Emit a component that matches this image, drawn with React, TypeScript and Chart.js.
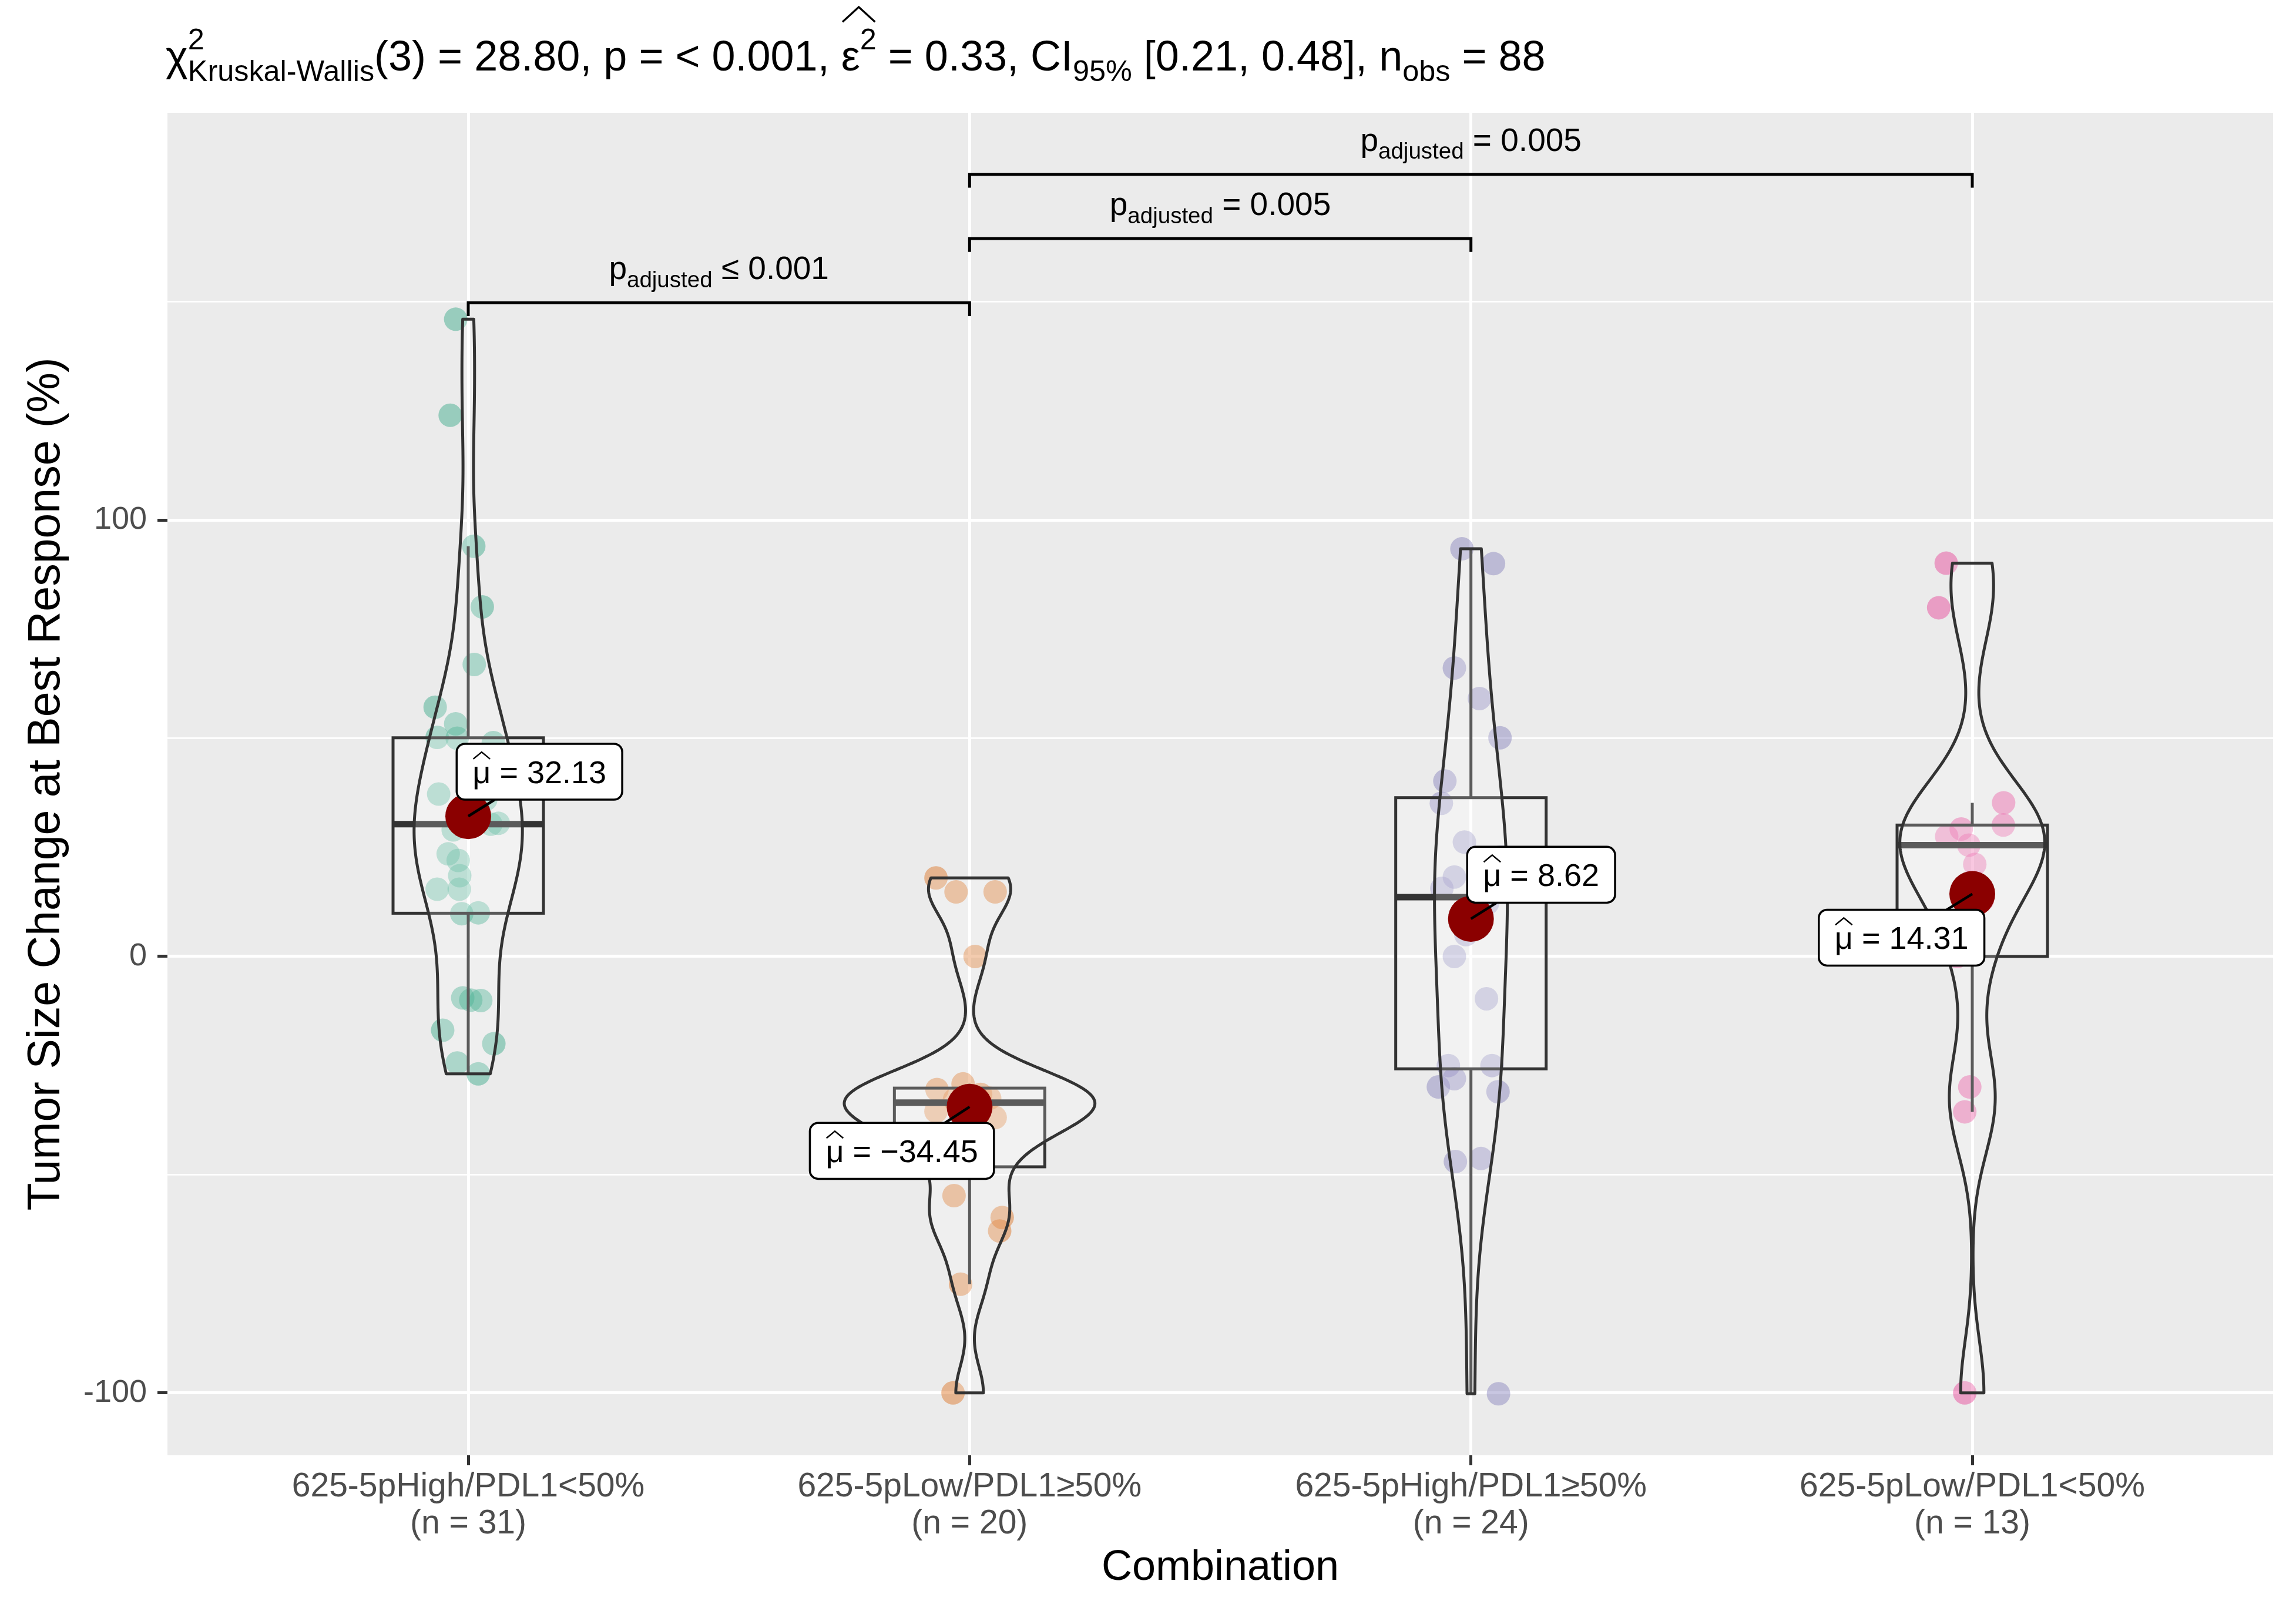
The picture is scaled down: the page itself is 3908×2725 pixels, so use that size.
import React, { useEffect, useRef } from "react";
import Chart from "chart.js/auto";

const FONT = "'Liberation Sans', Arial, Helvetica, sans-serif";
const font = (size: number) => `${size}px ${FONT}`;

// groups on the x axis
const categoryNames = [
  "625-5pHigh/PDL1<50%",
  "625-5pLow/PDL1≥50%",
  "625-5pHigh/PDL1≥50%",
  "625-5pLow/PDL1<50%",
];
const categoryCounts = [31, 20, 24, 13];
const groupColors = ["#1B9E77", "#D95F02", "#7570B3", "#E7298A"];

// tumour size change (%) per patient, with their jitter
const highLow50Values = [146, 124, 94, 80.1, 66.9, 57.1, 53.3, 50.2, 50, 49, 37.2, 36, 33, 32, 30.5, 30.3, 29, 23.5, 22, 18.5, 15.4, 15.4, 10, 9.8, -9.5, -10, -10.1, -16.9, -20, -24.4, -26.9];
const highLow50Jitter = [-0.025, -0.036, 0.011, 0.028, 0.012, -0.066, -0.025, -0.062, -0.022, 0.05, -0.059, 0.035, 0.02, 0, 0.06, 0.045, -0.03, -0.04, -0.02, -0.017, -0.062, -0.018, 0.02, -0.013, -0.011, 0.005, 0.025, -0.051, 0.051, -0.022, 0.02];

const lowHigh50Values = [18, 14.8, 14.8, 0, -29.2, -30.5, -31.6, -32.5, -32.8, -33, -34, -35.5, -36.9, -42, -46, -54.8, -59.8, -62.9, -75.1, -100];
const lowHigh50Jitter = [-0.067, -0.027, 0.051, 0.011, -0.013, -0.065, 0.022, 0.04, -0.03, 0, 0.01, -0.067, 0.051, -0.05, -0.08, -0.031, 0.065, 0.06, -0.018, -0.033];

const highHigh50Values = [93.4, 90, 66.1, 59.1, 50.1, 40.2, 35.1, 26.2, 22.8, 18.2, 15.6, 15, 12.2, 5, 0, -9.7, -25, -25, -28, -29.9, -31, -46.3, -47, -100.2];
const highHigh50Jitter = [-0.018, 0.045, -0.033, 0.017, 0.058, -0.052, -0.059, -0.013, 0.06, -0.033, -0.058, 0.05, 0.033, -0.01, -0.033, 0.031, -0.045, 0.042, -0.033, -0.065, 0.054, 0.02, -0.031, 0.055];

const lowLow50Values = [90.1, 79.9, 35.2, 30.1, 29.2, 27.5, 25.5, 21.1, 12.9, 0, -29.9, -35.6, -100];
const lowLow50Jitter = [-0.052, -0.067, 0.0625, 0.062, -0.022, -0.051, -0.007, 0.005, 0.02, -0.03, -0.005, -0.015, -0.015];

const groupValues = [highLow50Values, lowHigh50Values, highHigh50Values, lowLow50Values];
const groupJitter = [highLow50Jitter, lowHigh50Jitter, highHigh50Jitter, lowLow50Jitter];

// group means as printed in the labels
const groupMeans = [32.13, -34.45, 8.62, 14.31];

const yTicks = [-100, -50, 0, 50, 100, 150];
const yLabelled = [-100, 0, 100];

// pairwise comparisons (group a vs b)
const comparisons = [
  { a: 1, b: 2, y: 149.8, text: " ≤ 0.001" },
  { a: 2, b: 3, y: 164.5, text: " = 0.005" },
  { a: 2, b: 4, y: 179.2, text: " = 0.005" },
];

// where ggrepel put the mean labels, relative to the mean (x units, y units)
const labelNudge = [
  [0.142, 10.2],
  [-0.135, -10.1],
  [0.14, 10.1],
  [-0.141, -10],
];

const SCRIPT = 0.7;

type Run = { text: string; sub?: string; sup?: string; hat?: [number, number] };

function measureRuns(ctx: CanvasRenderingContext2D, runs: Run[], size: number) {
  return runs.map((r) => {
    ctx.font = font(size);
    const main = ctx.measureText(r.text).width;
    ctx.font = font(size * SCRIPT);
    const sub = r.sub ? ctx.measureText(r.sub).width : 0;
    const sup = r.sup ? ctx.measureText(r.sup).width : 0;
    return { main, script: Math.max(sub, sup) };
  });
}

function drawRuns(
  ctx: CanvasRenderingContext2D,
  runs: Run[],
  x: number,
  baseline: number,
  size: number,
  align: "left" | "center",
  subDrop = 0.25
) {
  const m = measureRuns(ctx, runs, size);
  const total = m.reduce((s, w) => s + w.main + w.script, 0);
  let cx = align === "center" ? x - total / 2 : x;
  ctx.textAlign = "left";
  ctx.textBaseline = "alphabetic";
  runs.forEach((r, i) => {
    ctx.font = font(size);
    ctx.fillText(r.text, cx, baseline);
    ctx.font = font(size * SCRIPT);
    if (r.sup) ctx.fillText(r.sup, cx + m[i].main, baseline - size * 0.5);
    if (r.sub) ctx.fillText(r.sub, cx + m[i].main, baseline + size * subDrop);
    if (r.hat) {
      const w = m[i].main + m[i].script;
      const top = baseline - size * r.hat[0];
      const bottom = baseline - size * r.hat[1];
      ctx.save();
      ctx.lineWidth = size * 0.045;
      ctx.strokeStyle = ctx.fillStyle as string;
      ctx.beginPath();
      ctx.moveTo(cx + w * 0.04, bottom);
      ctx.lineTo(cx + w / 2, top);
      ctx.lineTo(cx + w * 0.96, bottom);
      ctx.stroke();
      ctx.restore();
    }
    cx += m[i].main + m[i].script;
  });
  return total;
}

function quantile(sorted: number[], p: number) {
  const h = (sorted.length - 1) * p;
  const lo = Math.floor(h);
  const hi = Math.ceil(h);
  return sorted[lo] + (h - lo) * (sorted[hi] - sorted[lo]);
}

function boxStats(values: number[]) {
  const s = [...values].sort((a, b) => a - b);
  const q1 = quantile(s, 0.25);
  const med = quantile(s, 0.5);
  const q3 = quantile(s, 0.75);
  const iqr = q3 - q1;
  const lowW = Math.min(...s.filter((v) => v >= q1 - 1.5 * iqr));
  const highW = Math.max(...s.filter((v) => v <= q3 + 1.5 * iqr));
  return { q1, med, q3, lowW, highW, iqr, s };
}

// gaussian kde, bw.nrd0, trimmed to the data range (like geom_violin)
function density(values: number[]) {
  const n = values.length;
  const mean = values.reduce((a, b) => a + b, 0) / n;
  const sd = Math.sqrt(values.reduce((a, v) => a + (v - mean) ** 2, 0) / (n - 1));
  const { iqr, s } = boxStats(values);
  const lo = Math.min(sd, iqr / 1.34) || sd || 1;
  const bw = 0.9 * lo * Math.pow(n, -0.2);
  const out: [number, number][] = [];
  const N = 512;
  const min = s[0];
  const max = s[n - 1];
  for (let k = 0; k < N; k++) {
    const y = min + ((max - min) * k) / (N - 1);
    let d = 0;
    for (const v of values) {
      const z = (y - v) / bw;
      d += Math.exp(-0.5 * z * z);
    }
    out.push([y, d / (n * bw * Math.sqrt(2 * Math.PI))]);
  }
  return out;
}

const MEAN_INDEX = 4;

const overlayPlugin = {
  id: "statsOverlay",
  beforeDatasetDraw(chart: any, args: any) {
    if (args.index !== MEAN_INDEX) return;
    const { ctx, scales } = chart;
    const x = scales.x;
    const y = scales.y;

    // boxplots
    groupValues.forEach((vals, i) => {
      const b = boxStats(vals);
      const cx = i + 1;
      const left = x.getPixelForValue(cx - 0.15);
      const right = x.getPixelForValue(cx + 0.15);
      const mid = x.getPixelForValue(cx);
      ctx.save();
      ctx.strokeStyle = "#333333";
      ctx.lineWidth = 5;
      ctx.beginPath();
      ctx.moveTo(mid, y.getPixelForValue(b.q3));
      ctx.lineTo(mid, y.getPixelForValue(b.highW));
      ctx.moveTo(mid, y.getPixelForValue(b.q1));
      ctx.lineTo(mid, y.getPixelForValue(b.lowW));
      ctx.stroke();
      const top = y.getPixelForValue(b.q3);
      const bottom = y.getPixelForValue(b.q1);
      ctx.fillStyle = "rgba(255,255,255,0.2)";
      ctx.fillRect(left, top, right - left, bottom - top);
      ctx.strokeRect(left, top, right - left, bottom - top);
      ctx.lineWidth = 11;
      ctx.beginPath();
      ctx.moveTo(left, y.getPixelForValue(b.med));
      ctx.lineTo(right, y.getPixelForValue(b.med));
      ctx.stroke();
      ctx.restore();
    });

    // violins, scale = "area", width 0.5
    const dens = groupValues.map(density);
    const maxD = Math.max(...dens.map((d) => Math.max(...d.map((p) => p[1]))));
    dens.forEach((d, i) => {
      const cx = i + 1;
      ctx.save();
      ctx.beginPath();
      d.forEach(([v, dd], k) => {
        const px = x.getPixelForValue(cx + (0.25 * dd) / maxD);
        const py = y.getPixelForValue(v);
        if (k === 0) ctx.moveTo(px, py);
        else ctx.lineTo(px, py);
      });
      for (let k = d.length - 1; k >= 0; k--) {
        const [v, dd] = d[k];
        ctx.lineTo(x.getPixelForValue(cx - (0.25 * dd) / maxD), y.getPixelForValue(v));
      }
      ctx.closePath();
      ctx.fillStyle = "rgba(255,255,255,0.2)";
      ctx.fill();
      ctx.strokeStyle = "#333333";
      ctx.lineWidth = 5;
      ctx.lineJoin = "round";
      ctx.stroke();
      ctx.restore();
    });
  },
  afterDatasetsDraw(chart: any) {
    const { ctx, scales } = chart;
    const x = scales.x;
    const y = scales.y;

    // mean labels
    const size = 54;
    groupMeans.forEach((m, i) => {
      const px = x.getPixelForValue(i + 1);
      const py = y.getPixelForValue(m);
      const lx = x.getPixelForValue(i + 1 + labelNudge[i][0]);
      const ly = y.getPixelForValue(m + labelNudge[i][1]);
      const valueText = m < 0 ? ` = \u2212${Math.abs(m).toFixed(2)}` : ` = ${m.toFixed(2)}`;
      const runs: Run[] = [{ text: "μ", hat: [0.98, 0.76] }, { text: valueText }];
      const w = measureRuns(ctx, runs, size).reduce((s, r) => s + r.main + r.script, 0);
      const bw = w + size * 1.0;
      const bh = size * 1.76;
      const bx = lx - bw / 2;
      const by = ly - bh / 2;
      // segment from the point to the edge of the label box
      const dx = lx - px;
      const dy = ly - py;
      const t = Math.max(
        Math.abs(dx) > 0 ? (Math.abs(dx) - bw / 2) / Math.abs(dx) : 0,
        Math.abs(dy) > 0 ? (Math.abs(dy) - bh / 2) / Math.abs(dy) : 0
      );
      ctx.save();
      ctx.strokeStyle = "#000";
      ctx.lineWidth = 4.5;
      ctx.beginPath();
      ctx.moveTo(px, py);
      ctx.lineTo(px + dx * t, py + dy * t);
      ctx.stroke();
      ctx.beginPath();
      ctx.roundRect(bx, by, bw, bh, 14);
      ctx.fillStyle = "#fff";
      ctx.fill();
      ctx.lineWidth = 3.5;
      ctx.stroke();
      ctx.fillStyle = "#000";
      drawRuns(ctx, runs, lx, ly + size * 0.36, size, "center");
      ctx.restore();
    });

    // significance brackets
    comparisons.forEach((c) => {
      const x1 = x.getPixelForValue(c.a);
      const x2 = x.getPixelForValue(c.b);
      const yy = y.getPixelForValue(c.y);
      const yt = y.getPixelForValue(c.y - 3.07);
      ctx.save();
      ctx.strokeStyle = "#000";
      ctx.lineWidth = 5;
      ctx.beginPath();
      ctx.moveTo(x1, yt);
      ctx.lineTo(x1, yy);
      ctx.lineTo(x2, yy);
      ctx.lineTo(x2, yt);
      ctx.stroke();
      ctx.fillStyle = "#000";
      drawRuns(ctx, [{ text: "p", sub: "adjusted" }, { text: c.text }], (x1 + x2) / 2, yy - 40, 55, "center");
      ctx.restore();
    });
  },
  afterDraw(chart: any) {
    const { ctx } = chart;
    ctx.save();
    ctx.fillStyle = "#000";
    const runs: Run[] = [
      { text: "χ", sup: "2", sub: "Kruskal-Wallis" },
      { text: "(3) = 28.80, p = < 0.001, " },
      { text: "ε", sup: "2", hat: [1.5, 1.15] },
      { text: " = 0.33, CI", sub: "95%" },
      { text: " [0.21, 0.48], n", sub: "obs" },
      { text: " = 88" },
    ];
    drawRuns(ctx, runs, 282, 120, 72, "left");
    ctx.restore();
  },
};

const App = () => {
  const canvasRef = useRef<HTMLCanvasElement | null>(null);
  const chartRef = useRef<Chart | null>(null);

  useEffect(() => {
    document.body.style.margin = "0";
    const ctx = canvasRef.current?.getContext("2d");
    if (chartRef.current) chartRef.current.destroy();
    if (!ctx) return;

    const jitterSets = groupValues.map((vals, i) => {
      const hex = groupColors[i];
      const r = parseInt(hex.slice(1, 3), 16);
      const g = parseInt(hex.slice(3, 5), 16);
      const b = parseInt(hex.slice(5, 7), 16);
      return {
        label: categoryNames[i],
        data: vals.map((v, k) => ({ x: i + 1 + groupJitter[i][k], y: v })),
        backgroundColor: `rgba(${r},${g},${b},0.4)`,
        borderWidth: 0,
        pointRadius: 20,
        order: 2,
      };
    });

    chartRef.current = new Chart(ctx, {
      type: "scatter",
      data: {
        datasets: [
          ...jitterSets,
          {
            label: "mean",
            data: groupMeans.map((m, i) => ({ x: i + 1, y: m })),
            backgroundColor: "#8B0000",
            borderWidth: 0,
            pointRadius: 39,
            order: 1,
          },
        ],
      },
      options: {
        animation: false,
        responsive: false,
        devicePixelRatio: 1,
        events: [],
        layout: { padding: { left: 0, right: 24, top: 192, bottom: 0 } },
        plugins: {
          legend: { display: false },
          tooltip: { enabled: false },
          title: { display: false },
        },
        scales: {
          x: {
            type: "linear",
            min: 0.4,
            max: 4.6,
            afterBuildTicks: (s: any) => {
              s.ticks = categoryNames.map((_, i) => ({ value: i + 1 }));
            },
            afterFit: (s: any) => {
              s.height = 248;
            },
            grid: {
              color: "#ffffff",
              lineWidth: 5,
              tickColor: "#333333",
              tickWidth: 5,
              tickLength: 17,
            },
            border: { display: false },
            ticks: {
              autoSkip: false,
              maxRotation: 0,
              minRotation: 0,
              padding: 6,
              color: "#4D4D4D",
              font: { family: FONT, size: 57, lineHeight: 1.1 },
              callback: (v: any) => {
                const i = Math.round(Number(v)) - 1;
                return [categoryNames[i], `(n = ${categoryCounts[i]})`];
              },
            },
            title: {
              display: true,
              text: "Combination",
              color: "#000",
              font: { family: FONT, size: 72, lineHeight: 1.2 },
              padding: { top: 0, bottom: 13 },
            },
          },
          y: {
            type: "linear",
            min: -114.3,
            max: 193.3,
            afterBuildTicks: (s: any) => {
              s.ticks = yTicks.map((v) => ({ value: v }));
            },
            afterFit: (s: any) => {
              s.width = 285;
            },
            grid: {
              color: "#ffffff",
              lineWidth: (c: any) => (yLabelled.includes(c.tick?.value) ? 5 : 2.7),
              tickColor: (c: any) => (yLabelled.includes(c.tick?.value) ? "#333333" : "rgba(0,0,0,0)"),
              tickWidth: 5,
              tickLength: 17,
            },
            border: { display: false },
            ticks: {
              padding: 18,
              color: "#4D4D4D",
              font: { family: FONT, size: 54 },
              callback: (v: any) => (yLabelled.includes(Number(v)) ? String(v) : ""),
            },
            title: {
              display: true,
              text: "Tumor Size Change at Best Response (%)",
              color: "#000",
              font: { family: FONT, size: 77, lineHeight: 1.2 },
              padding: { top: 34, bottom: 0 },
            },
          },
        },
      },
      plugins: [
        {
          id: "panelBackground",
          beforeDraw(chart: any) {
            const { ctx: c, chartArea: a } = chart;
            c.save();
            c.fillStyle = "#EBEBEB";
            c.fillRect(a.left, a.top, a.right - a.left, a.bottom - a.top);
            c.restore();
          },
        },
        overlayPlugin,
      ],
    } as any);

    return () => {
      if (chartRef.current) {
        chartRef.current.destroy();
        chartRef.current = null;
      }
    };
  }, []);

  return (
    <canvas
      ref={canvasRef}
      width={3908}
      height={2725}
      style={{ display: "block", width: 3908, height: 2725 }}
    />
  );
};

export default App;
